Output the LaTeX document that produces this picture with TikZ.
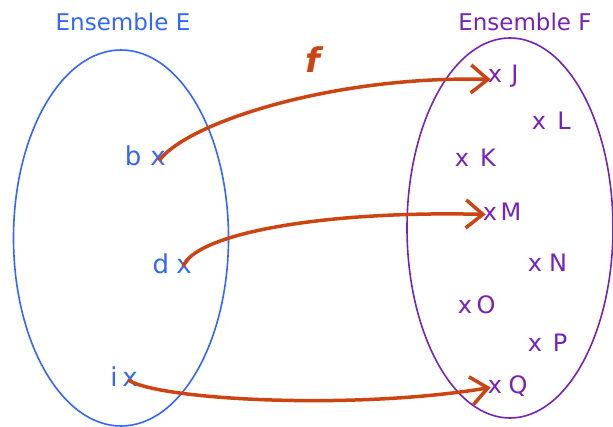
\documentclass[tikz,border=0pt]{standalone}
\usepackage{fontspec}
\setmainfont{DejaVu Sans}
\usetikzlibrary{shapes.geometric,arrows.meta}
\definecolor{eblue}{RGB}{51,102,255}
\definecolor{fpurple}{RGB}{119,34,187}
\definecolor{forange}{RGB}{204,68,17}
\tikzset{
  setE/.style={draw=eblue,line width=1.6pt,ellipse,inner sep=0pt},
  setF/.style={draw=fpurple,line width=1.6pt,ellipse,inner sep=0pt},
  titleE/.style={text=eblue,font=\fontsize{23}{27}\selectfont,inner sep=0pt},
  titleF/.style={text=fpurple,font=\fontsize{23}{27}\selectfont,inner sep=0pt},
  eltE/.style={text=eblue,font=\fontsize{26}{30}\selectfont,inner sep=0pt,anchor=base},
  eltF/.style={text=fpurple,font=\fontsize{24}{28}\selectfont,inner sep=0pt,anchor=base},
  arr/.style={draw=forange,line width=3.5pt,-{Straight Barb[length=17pt,width=28pt,line width=3.5pt]}},
  flabel/.style={text=forange,font=\fontsize{34}{38}\selectfont\bfseries\itshape,inner sep=0pt}
}
\begin{document}
\begin{tikzpicture}[x=1pt,y=-1pt]
\useasboundingbox (0,0) rectangle (613,427);
\fill[white] (0,0) rectangle (613,427);
% sets
\node[setE,minimum width=215pt,minimum height=376pt] (E) at (121,238) {};
\node[setF,minimum width=206pt,minimum height=380pt] (F) at (510,228) {};
\node[titleE] (tE) at (123,22) {Ensemble E};
\node[titleF] (tF) at (525,22) {Ensemble F};
% elements of E
\node[eltE] (b) at (133,166) {b};
\node[eltE] (xb) at (158,166) {x};
\node[eltE] (d) at (161,274) {d};
\node[eltE] (xd) at (184,274) {x};
\node[eltE] (i) at (114,387) {i};
\node[eltE] (xi) at (130,387) {x};
% elements of F
\node[eltF] (xJ) at (495,83) {x};
\node[eltF] (J) at (515,83) {J};
\node[eltF] (xL) at (539,130) {x};
\node[eltF] (L) at (564,130) {L};
\node[eltF] (xK) at (462,167) {x};
\node[eltF] (K) at (488,167) {K};
\node[eltF] (xM) at (490,221) {x};
\node[eltF] (M) at (511,221) {M};
\node[eltF] (xN) at (535,272) {x};
\node[eltF] (N) at (558,272) {N};
\node[eltF] (xO) at (465,314) {x};
\node[eltF] (O) at (486,314) {O};
\node[eltF] (xP) at (535,352) {x};
\node[eltF] (P) at (560,352) {P};
\node[eltF] (xQ) at (495,394) {x};
\node[eltF] (Q) at (518,394) {Q};
% mapping
\node[flabel] (f) at (313,60) {f};
\draw[arr] ([xshift=1pt,yshift=-2pt]xb.center) .. controls +(27,-38) and +(-158,-4) .. ([xshift=3pt,yshift=-3pt]xJ.west);
\draw[arr] ([xshift=-1pt]xd.center) .. controls +(11,-33) and +(-163,-4) .. ([xshift=3pt]xM.west);
\draw[arr] ([xshift=-2pt]xi.center) .. controls +(30,20) and +(-138,23) .. ([xshift=3pt]xQ.west);
\end{tikzpicture}
\end{document}
